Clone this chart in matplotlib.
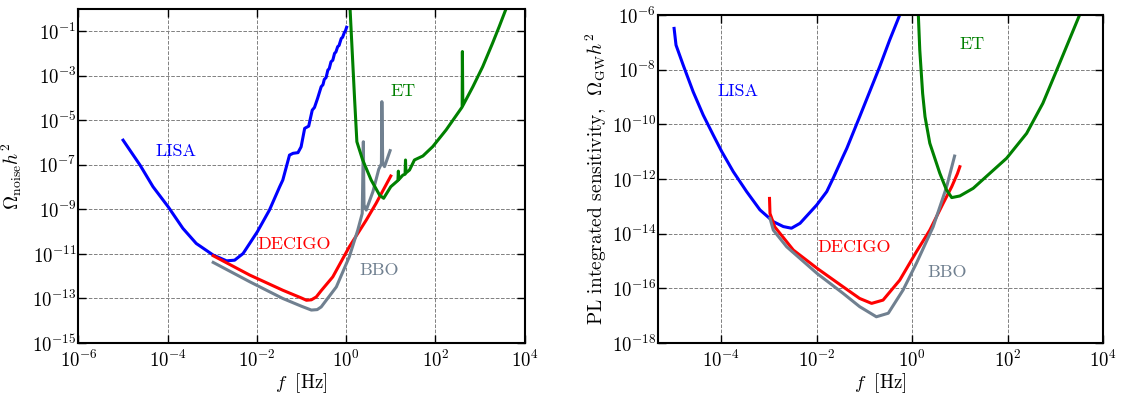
import numpy as np
import matplotlib
matplotlib.use("Agg")
import matplotlib.pyplot as plt

plt.rcParams['mathtext.fontset'] = 'cm'
plt.rcParams['font.family'] = 'serif'
plt.rcParams['font.serif'] = ['cmr10', 'DejaVu Serif']
plt.rcParams['axes.formatter.use_mathtext'] = True

# values, as log10(f [Hz]) and log10(Omega h^2)
# ---- left panel: noise curves
lisa_noise_logf = [-5.0, -4.62, -4.33, -3.99, -3.66, -3.36, -2.98, -2.68, -2.5, -2.31, -1.99,
                   -1.72, -1.49, -1.42, -1.27, -1.19, -1.08, -1.01, -0.93, -0.84, -0.76, -0.71,
                   -0.64, -0.56, -0.52, -0.49, -0.45, -0.41, -0.38, -0.34, -0.30, -0.26, -0.23,
                   -0.19, -0.16, -0.11, -0.08, -0.04, -0.02, 0.01]
lisa_noise_logy = [-5.89, -7.01, -7.98, -8.88, -9.85, -10.53, -11.05, -11.31, -11.28, -10.98, -10.0,
                   -9.03, -7.98, -7.68, -6.56, -6.48, -6.45, -6.19, -5.36, -5.26, -4.54, -4.42,
                   -4.01, -3.49, -3.40, -3.16, -3.08, -2.74, -2.68, -2.37, -2.30, -1.99, -1.93,
                   -1.69, -1.64, -1.32, -1.27, -1.05, -1.0, -0.82]

decigo_noise_logf = [-2.98, -2.16, -1.42, -1.0, -0.89, -0.78, -0.67, -0.56, -0.30, 0.07, 0.45, 0.67, 1.0]
decigo_noise_logy = [-11.08, -11.95, -12.63, -12.98, -13.08, -13.06, -12.93, -12.65, -12.03, -10.68,
                     -9.48, -8.73, -7.5]

bbo_noise_logf = [-2.98, -2.16, -1.42, -1.0, -0.78, -0.65, -0.56, -0.22, 0.07, 0.26, 0.36, 0.385,
                  0.40, 0.45, 0.6, 0.73, 0.79, 0.80, 0.82, 0.86, 0.985]
bbo_noise_logy = [-11.38, -12.25, -13.0, -13.35, -13.52, -13.5, -13.38, -12.48, -11.13, -9.93, -9.18,
                  -5.96, -8.8, -9.03, -8.2, -7.2, -6.95, -4.16, -6.95, -7.08, -6.36]

et_noise_logf = [0.08, 0.19, 0.24, 0.37, 0.56, 0.75, 0.84, 1.0, 1.16, 1.17, 1.18, 1.27, 1.32, 1.33,
                 1.34, 1.42, 1.53, 1.72, 1.94, 2.24, 2.60, 2.605, 2.615, 2.84, 3.06, 3.28, 3.43, 3.62]
et_noise_logy = [0.3, -4.09, -5.96, -6.78, -7.68, -8.36, -8.5, -7.98, -7.70, -7.28, -7.66, -7.46, -7.42,
                 -6.78, -7.36, -7.23, -6.78, -6.6, -6.18, -5.43, -4.40, -1.91, -4.34, -3.49, -2.59,
                 -1.54, -0.79, 0.2]

# ---- right panel: power-law integrated sensitivity
lisa_pl_logf = [-4.99, -4.95, -4.80, -4.59, -4.38, -4.17, -3.99, -3.75, -3.47, -3.19, -2.91, -2.70,
                -2.53, -2.35, -2.0, -1.79, -1.65, -1.45, -1.37, -1.10, -0.68, -0.47, -0.26, -0.2]
lisa_pl_logy = [-6.49, -7.10, -7.83, -8.81, -9.66, -10.39, -11.0, -11.73, -12.46, -13.13, -13.56, -13.74,
                -13.80, -13.62, -12.95, -12.46, -11.95, -11.18, -10.88, -9.72, -7.89, -6.91, -6.0, -5.7]

decigo_pl_logf = [-2.99, -2.98, -2.88, -2.49, -1.99, -1.45, -1.10, -0.85, -0.61, -0.26, 0.09, 0.37,
                  0.65, 0.83, 0.95, 1.0]
decigo_pl_logy = [-12.71, -13.26, -13.75, -14.60, -15.27, -15.94, -16.37, -16.55, -16.43, -15.70, -14.66,
                  -13.87, -12.89, -12.28, -11.8, -11.55]

bbo_pl_logf = [-2.98, -2.91, -2.63, -1.99, -1.45, -1.10, -0.75, -0.50, -0.19, 0.09, 0.44, 0.72, 0.89]
bbo_pl_logy = [-13.44, -13.87, -14.48, -15.46, -16.18, -16.67, -17.04, -16.91, -16.06, -15.08, -13.75,
               -12.3, -11.16]

et_pl_logf = [0.12, 0.13, 0.16, 0.22, 0.27, 0.37, 0.58, 0.72, 0.83, 1.0, 1.28, 1.63, 1.98, 2.40, 2.74,
              3.09, 3.51, 3.56]
et_pl_logy = [-5.5, -6.0, -7.28, -8.87, -9.72, -10.69, -11.79, -12.40, -12.68, -12.62, -12.34, -11.79,
              -11.24, -10.33, -9.23, -7.77, -6.0, -5.7]

colors = {'LISA': '#0000ff', 'DECIGO': '#ff0000', 'BBO': '#708090', 'ET': '#008000'}


def style_axes(ax, xlim, ylim, xticks, yticks):
    ax.set_xscale('log')
    ax.set_yscale('log')
    ax.set_xlim(*xlim)
    ax.set_ylim(*ylim)
    ax.set_xticks(xticks)
    ax.set_yticks(yticks)
    ax.minorticks_off()
    ax.tick_params(which='both', direction='in', top=True, right=True, length=6, width=1,
                   labelsize=13.5)
    ax.tick_params(axis='x', pad=5)
    ax.tick_params(axis='y', pad=1.5)
    for s in ax.spines.values():
        s.set_linewidth(1.5)
    ax.grid(True, color='gray', linestyle='--', linewidth=0.7)
    ax.set_axisbelow(True)
    ax.set_xlabel(r'$f\;$ [Hz]', fontsize=13.5, labelpad=0)


def label(ax, name, lx, ly):
    ax.text(10**lx, 10**ly, name, color=colors[name], fontsize=13, ha='center', va='center')


fig = plt.figure(figsize=(11.21, 3.94), dpi=100)
ax1 = fig.add_axes([0.070, 0.1294, 0.398, 0.8477])
ax2 = fig.add_axes([0.5873, 0.1294, 0.3966, 0.8325])

# left: noise
for name, lf, ly in [('LISA', lisa_noise_logf, lisa_noise_logy),
                     ('DECIGO', decigo_noise_logf, decigo_noise_logy),
                     ('BBO', bbo_noise_logf, bbo_noise_logy),
                     ('ET', et_noise_logf, et_noise_logy)]:
    ax1.plot(10**np.array(lf), 10**np.array(ly), color=colors[name], lw=2.2)

style_axes(ax1, (1e-6, 1e4), (1e-15, 1e0), [10.0**k for k in range(-6, 5, 2)],
           [10.0**k for k in range(-15, 0, 2)])
ax1.set_ylabel(r'$\Omega_{\rm noise}h^2$', fontsize=14, labelpad=6)

label(ax1, 'LISA', -3.82, -6.37)
label(ax1, 'DECIGO', -1.17, -10.57)
label(ax1, 'BBO', 0.74, -11.73)
label(ax1, 'ET', 1.28, -3.70)

# right: PL sensitivity
for name, lf, ly in [('LISA', lisa_pl_logf, lisa_pl_logy),
                     ('DECIGO', decigo_pl_logf, decigo_pl_logy),
                     ('BBO', bbo_pl_logf, bbo_pl_logy),
                     ('ET', et_pl_logf, et_pl_logy)]:
    ax2.plot(10**np.array(lf), 10**np.array(ly), color=colors[name], lw=2.2)

style_axes(ax2, (10**-5.32, 1e4), (1e-18, 1e-6), [10.0**k for k in range(-4, 5, 2)],
           [10.0**k for k in range(-18, -5, 2)])
ax2.set_ylabel(r'PL integrated sensitivity,  $\Omega_{\rm GW}h^2$', fontsize=14, labelpad=2)

label(ax2, 'LISA', -3.66, -8.78)
label(ax2, 'DECIGO', -1.21, -14.51)
label(ax2, 'BBO', 0.73, -15.40)
label(ax2, 'ET', 1.25, -7.06)

fig.savefig('out.png', dpi=100)
